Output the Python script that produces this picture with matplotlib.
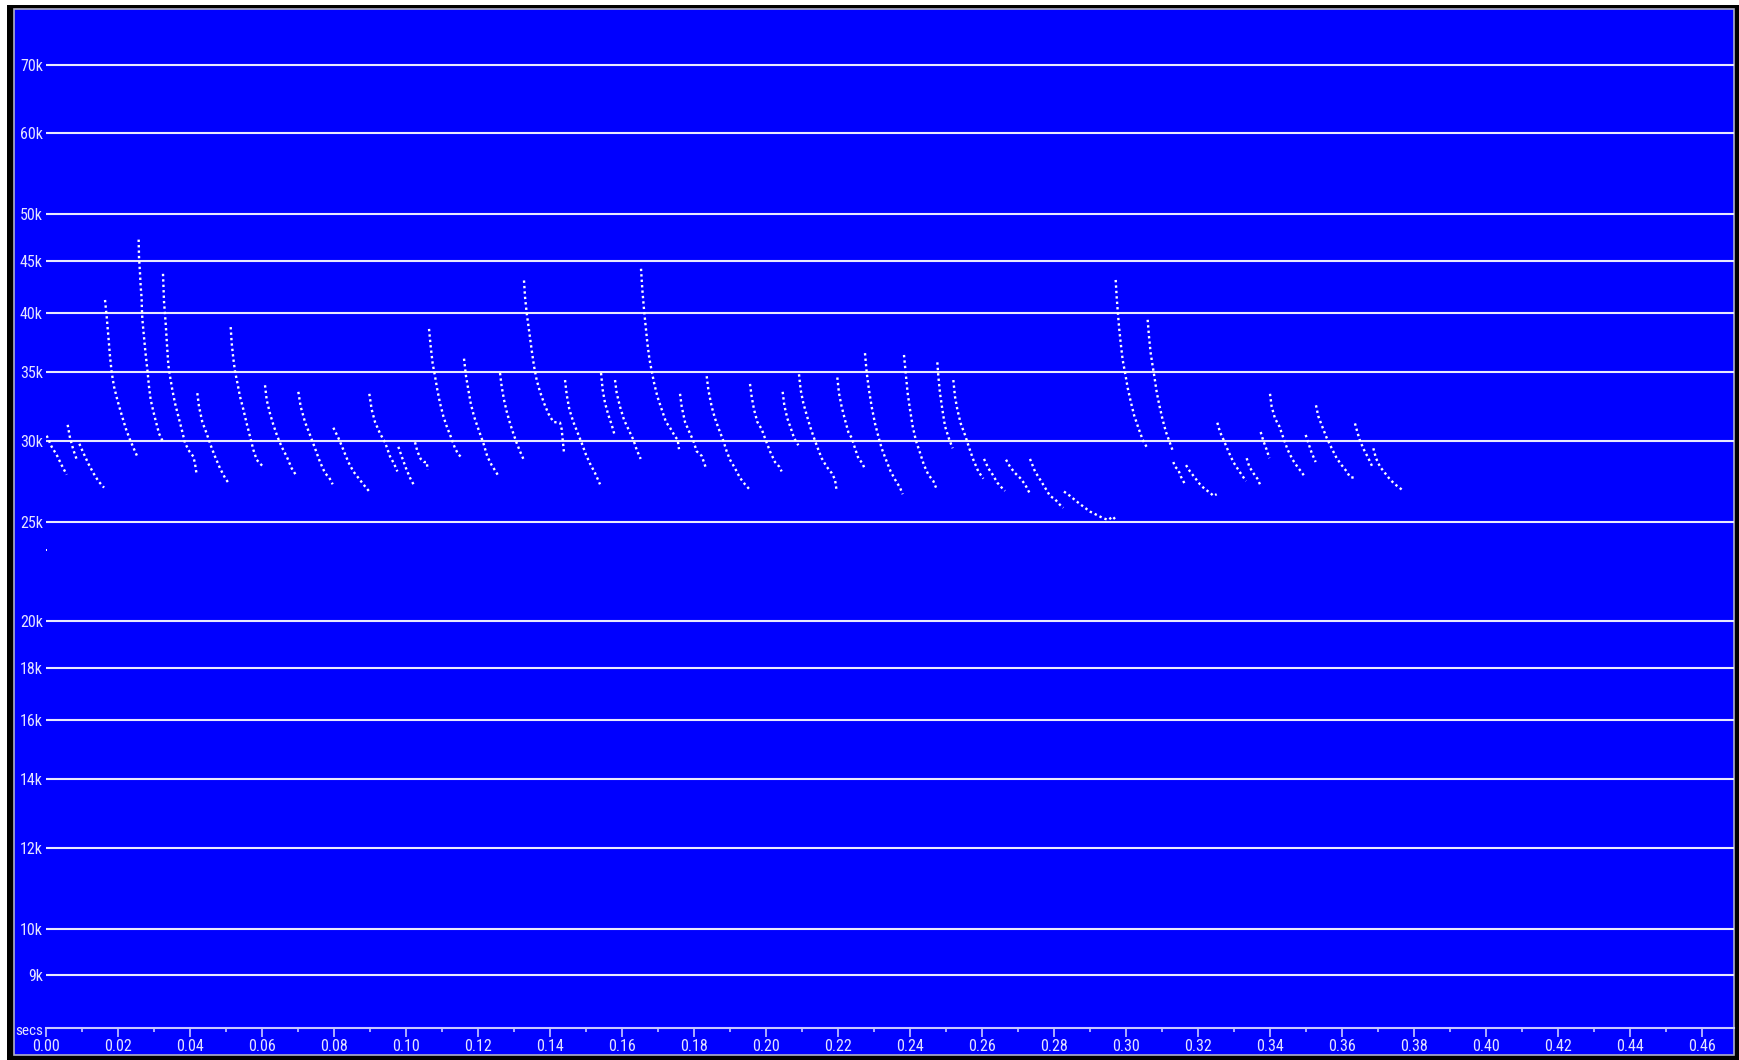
import matplotlib
matplotlib.use("Agg")
import matplotlib.pyplot as plt
from matplotlib.patches import Rectangle
from matplotlib.ticker import MultipleLocator, FixedLocator, FuncFormatter

# bat pass, zero-crossing dots: one list per call, time in ms, frequency in kHz
call_t_ms = [
    [0.27, 1.66, 3.04, 4.43, 5.82],
    [6.10, 6.75, 7.67, 8.78],
    [9.34, 10.45, 11.84, 13.23, 14.61, 16.19],
    [16.47, 16.93, 17.39, 17.85, 18.32, 18.97, 19.89, 21.09, 22.30, 23.41, 24.61, 25.54],
    [25.81, 25.91, 26.18, 26.37, 26.65, 26.70, 26.83, 27.11, 27.39, 27.67, 28.04, 28.31, 28.68,
     29.15, 29.89, 30.63, 31.46, 32.39],
    [32.57, 32.85, 33.31, 33.68, 34.05, 34.51, 35.16, 35.90, 36.83, 37.75, 38.68, 39.88, 40.99,
     41.46, 41.92],
    [42.10, 42.57, 43.49, 44.69, 45.81, 47.01, 48.40, 49.79, 50.99],
    [51.36, 51.64, 52.10, 52.56, 53.21, 53.95, 54.88, 55.80, 56.73, 57.66, 58.58, 59.51, 60.43],
    [60.90, 61.36, 62.28, 63.21, 64.32, 65.52, 66.91, 68.30, 69.69],
    [70.15, 70.80, 72.00, 73.39, 74.78, 76.17, 77.56, 78.76, 79.68],
    [79.87, 81.26, 82.65, 84.03, 85.42, 86.81, 88.20, 89.70],
    [89.86, 90.51, 91.44, 92.83, 94.22, 95.61, 96.72, 97.64],
    [97.92, 98.85, 100.05, 101.16, 102.36],
    [102.55, 103.20, 104.12, 105.05, 105.79, 106.07],
    [106.44, 106.90, 107.45, 108.10, 108.75, 109.49, 110.42, 111.34, 112.45, 113.66, 114.58, 115.69],
    [116.15, 116.71, 117.36, 118.00, 118.93, 120.14, 121.52, 122.63, 123.84, 124.95, 125.87],
    [126.15, 126.61, 127.26, 128.00, 128.93, 129.85, 130.78, 131.70, 132.63],
    [132.81, 133.09, 133.56, 134.20, 134.94, 135.59, 136.33, 137.26, 138.37, 139.57, 140.96,
     142.81, 143.27, 143.55, 143.92],
    [144.20, 144.66, 145.40, 146.51, 147.62, 148.83, 150.03, 151.14, 152.53, 153.92],
    [154.20, 154.66, 155.31, 156.23, 157.16, 157.90],
    [158.08, 158.55, 159.47, 160.58, 161.79, 163.18, 164.10, 165.21],
    [165.30, 165.67, 166.14, 166.60, 167.06, 167.62, 168.27, 168.91, 169.84, 171.04, 172.24,
     173.35, 174.74, 175.48, 175.85],
    [176.13, 176.60, 177.52, 178.72, 179.83, 180.76, 182.15, 183.35],
    [183.54, 184.00, 184.92, 185.85, 186.77, 188.16, 189.08, 190.01, 191.40, 192.78, 194.17, 195.38],
    [195.56, 196.02, 196.67, 197.60, 198.80, 200.00, 201.11, 202.50, 203.70, 204.35],
    [204.63, 205.09, 205.93, 206.85, 207.78, 208.98],
    [209.17, 209.63, 210.37, 211.30, 212.22, 213.33, 214.54, 215.46, 216.85, 218.24, 219.16, 219.63],
    [219.81, 220.27, 221.01, 221.94, 222.86, 223.79, 224.72, 225.64, 226.85, 227.40],
    [227.49, 227.96, 228.60, 229.34, 230.27, 231.20, 232.12, 233.32, 234.62, 235.82, 237.21, 237.95],
    [238.32, 238.88, 239.34, 239.99, 240.73, 241.65, 242.77, 243.88, 245.08, 246.47, 247.21],
    [247.58, 247.86, 248.32, 248.97, 249.71, 250.91, 251.84],
    [252.02, 252.48, 253.13, 254.06, 255.26, 256.46, 257.57, 258.96, 260.35],
    [260.54, 261.74, 262.94, 264.24, 265.44, 266.37],
    [266.65, 267.76, 269.15, 270.53, 271.92, 273.12],
    [273.31, 274.70, 276.09, 277.48, 278.86, 280.25, 281.64, 282.57],
    [282.75, 284.42, 286.27, 288.12, 289.97, 291.82, 293.67, 295.06, 296.26, 296.91],
    [297.10, 297.37, 297.65, 298.02, 298.49, 299.04, 299.69, 300.43, 301.26, 302.19, 303.39,
     304.60, 305.89],
    [305.98, 306.35, 306.82, 307.37, 307.83, 308.48, 309.22, 310.15, 311.07, 312.18, 312.92],
    [313.11, 313.57, 314.50, 315.15, 316.35],
    [316.63, 317.74, 319.13, 320.51, 321.90, 323.29, 324.22, 325.14],
    [325.33, 326.07, 327.18, 328.38, 329.77, 331.16, 332.36, 333.29],
    [333.47, 334.21, 335.32, 336.44, 337.17],
    [337.36, 338.10, 339.03, 339.77],
    [339.95, 340.41, 341.34, 342.54, 343.65, 344.86, 346.24, 347.54, 348.74, 349.67],
    [349.86, 350.60, 351.52, 352.63],
    [352.72, 353.37, 354.58, 355.69, 357.08, 358.46, 359.85, 361.24, 362.17, 363.37],
    [363.55, 364.20, 364.94, 366.05, 367.26, 368.37],
    [368.64, 369.38, 370.50, 371.88, 373.27, 374.66, 375.86, 376.97],
]

call_f_khz = [
    [30.35, 29.6, 29.07, 28.4, 27.8],
    [31.1, 30.2, 29.4, 28.65],
    [29.8, 29.2, 28.5, 27.9, 27.4, 27.0],
    [41.2, 39.7, 38.0, 36.3, 35.0, 33.9, 32.9, 31.8, 30.8, 30.07, 29.4, 28.9],
    [47.2, 45.35, 43.8, 42.5, 41.3, 40.45, 39.5, 38.5, 37.6, 36.7, 35.7, 35.0, 33.9,
     32.9, 32.05, 31.3, 30.5, 30.02],
    [43.7, 41.06, 39.1, 37.24, 35.6, 34.7, 33.65, 32.66, 31.7, 30.8, 29.85, 29.3, 28.96,
     28.5, 27.8],
    [33.4, 32.4, 31.3, 30.5, 29.7, 28.96, 28.2, 27.6, 27.2],
    [38.76, 37.4, 36.1, 35.1, 34.2, 33.15, 32.2, 31.2, 30.3, 29.4, 28.75, 28.5, 28.3],
    [34.0, 32.9, 31.9, 31.1, 30.3, 29.6, 28.96, 28.2, 27.7],
    [33.5, 32.4, 31.3, 30.4, 29.5, 28.6, 27.9, 27.6, 27.2],
    [30.9, 30.2, 29.4, 28.6, 28.0, 27.6, 27.2, 26.8],
    [33.35, 32.2, 31.3, 30.5, 29.9, 28.96, 28.5, 28.0],
    [29.6, 28.96, 28.2, 27.6, 27.1],
    [29.9, 29.3, 28.8, 28.6, 28.6, 28.1],
    [38.6, 37.1, 35.7, 34.7, 33.65, 32.66, 31.7, 31.0, 30.3, 29.5, 29.1, 28.85],
    [36.1, 34.7, 33.65, 32.66, 31.7, 30.8, 29.85, 28.96, 28.4, 28.0, 27.65],
    [34.95, 33.9, 32.9, 32.05, 31.2, 30.5, 29.85, 29.3, 28.8],
    [43.05, 41.5, 40.0, 38.5, 36.8, 35.5, 34.4, 33.5, 32.66, 31.9, 31.3,
     31.25, 30.8, 30.07, 29.2],
    [34.4, 33.3, 32.2, 31.3, 30.6, 29.85, 29.07, 28.5, 27.9, 27.2],
    [34.95, 33.65, 32.66, 31.8, 31.1, 30.45],
    [34.4, 33.4, 32.4, 31.45, 30.8, 30.07, 29.4, 28.8],
    [44.2, 42.15, 40.3, 38.8, 37.4, 36.1, 35.1, 34.2, 33.15, 32.2, 31.3,
     30.9, 30.3, 30.07, 29.44],
    [33.35, 32.4, 31.3, 30.6, 30.0, 29.3, 29.0, 28.2],
    [34.7, 33.65, 32.4, 31.55, 30.9, 30.0, 29.3, 28.75, 28.2, 27.6, 27.2, 26.9],
    [34.1, 33.15, 32.2, 31.3, 30.8, 30.0, 29.3, 28.6, 28.3, 28.0],
    [33.5, 32.5, 31.55, 30.9, 30.2, 29.7],
    [34.85, 33.65, 32.66, 31.8, 31.0, 30.2, 29.4, 28.85, 28.3, 27.9, 27.5, 26.8],
    [34.6, 33.4, 32.4, 31.45, 30.6, 30.2, 29.5, 28.85, 28.5, 28.15],
    [36.55, 35.0, 33.65, 32.4, 31.2, 30.3, 29.5, 28.75, 28.0, 27.5, 27.0, 26.6],
    [36.4, 34.7, 33.4, 32.2, 31.0, 30.0, 29.2, 28.4, 27.8, 27.4, 27.0],
    [35.8, 34.7, 33.4, 32.2, 31.0, 30.07, 29.5],
    [34.4, 33.15, 32.2, 31.2, 30.4, 29.5, 28.75, 28.0, 27.55],
    [28.8, 28.2, 27.8, 27.3, 27.0, 26.8],
    [28.75, 28.3, 27.9, 27.6, 27.2, 26.7],
    [28.8, 28.0, 27.5, 27.0, 26.5, 26.3, 25.97, 25.8],
    [26.76, 26.5, 26.17, 25.87, 25.58, 25.39, 25.2, 25.1, 25.3, 25.15],
    [43.1, 41.5, 40.3, 38.8, 37.4, 36.0, 35.0, 33.8, 32.8, 31.8, 30.9, 30.07, 29.5],
    [39.4, 37.95, 36.55, 35.5, 34.7, 33.5, 32.5, 31.45, 30.6, 29.85, 29.35],
    [28.6, 28.3, 28.1, 27.7, 27.2],
    [28.4, 28.0, 27.6, 27.2, 26.9, 26.7, 26.5, 26.6],
    [31.25, 30.6, 30.0, 29.3, 28.6, 28.1, 27.7, 27.4],
    [28.85, 28.3, 27.9, 27.55, 27.2],
    [30.6, 30.0, 29.4, 28.85],
    [33.35, 32.4, 31.55, 31.0, 30.2, 29.4, 28.75, 28.3, 27.95, 27.65],
    [30.4, 29.85, 29.2, 28.6],
    [32.5, 31.7, 30.9, 30.2, 29.5, 28.85, 28.4, 28.0, 27.65, 27.6],
    [31.2, 30.6, 30.0, 29.4, 28.85, 28.3],
    [29.5, 28.85, 28.3, 27.9, 27.5, 27.2, 27.0, 26.8],
]

stray_t_ms = [0.08]
stray_f_khz = [23.45]

grid_khz = [70, 60, 50, 45, 40, 35, 30, 25, 20, 18, 16, 14, 12, 10, 9]
grid_labels = [f"{g}k" for g in grid_khz]

BLUE = "#0000ff"
TEXT = "#e4e4ff"
FONT = ["Roboto Condensed", "DejaVu Sans"]

W, H = 1739, 1060
fig = plt.figure(figsize=(W / 100, H / 100), dpi=100, facecolor="white")

# window frame, kept under the axes
fig.patches.append(Rectangle((7 / W, 0), 1 - 7 / W, 1 - 5 / H, transform=fig.transFigure,
                             facecolor="black", edgecolor="none", zorder=-3))
fig.patches.append(Rectangle((14 / W, 5 / H), 1720 / W, 1046 / H, transform=fig.transFigure,
                             facecolor=BLUE, edgecolor="#b0b0c8", linewidth=1.2, zorder=-2))

ax = fig.add_axes([45.7 / W, 32 / H, (1734 - 45.7) / W, (1028 - 9) / H])
ax.set_facecolor("none")
ax.set_yscale("log")
ax.set_xlim(0, 0.46879)
ax.set_ylim(7.993, 79.35)

for g in grid_khz:
    ax.axhline(g, color="#e8e8ff", linewidth=1.5, zorder=1)

for ts, fs in zip(call_t_ms, call_f_khz):
    ax.plot([t / 1000 for t in ts], fs, color="white", linewidth=1.7,
            linestyle=(0, (1, 1.3)), dash_capstyle="butt", zorder=3)
ax.plot([t / 1000 for t in stray_t_ms], stray_f_khz, "s", color="white",
        markersize=2, markeredgewidth=0, zorder=3)

for side in ("top", "left", "right"):
    ax.spines[side].set_visible(False)
ax.spines["bottom"].set_color("#c8c8ff")
ax.spines["bottom"].set_linewidth(1.5)

ax.yaxis.set_major_locator(FixedLocator(grid_khz))
ax.yaxis.set_minor_locator(FixedLocator([]))
ax.set_yticklabels(grid_labels)
ax.tick_params(axis="y", which="both", length=0, pad=2, labelcolor=TEXT, labelsize=11.5)

ax.xaxis.set_major_locator(MultipleLocator(0.02))
ax.xaxis.set_minor_locator(MultipleLocator(0.01))
ax.xaxis.set_major_formatter(FuncFormatter(lambda v, p: f"{v:.2f}"))
ax.tick_params(axis="x", which="major", direction="out", length=6.5, width=1.2,
               color="#c8c8ff", labelcolor=TEXT, labelsize=11.5, pad=1.5)
ax.tick_params(axis="x", which="minor", direction="out", length=3, width=1.2, color="#c8c8ff")

for lab in ax.get_xticklabels() + ax.get_yticklabels():
    lab.set_family(FONT)

fig.text(43.5 / W, 1 - 1031 / H, "secs", color=TEXT, fontsize=11, family=FONT,
         ha="right", va="center")

fig.savefig("out.png", dpi=100, facecolor=fig.get_facecolor())
